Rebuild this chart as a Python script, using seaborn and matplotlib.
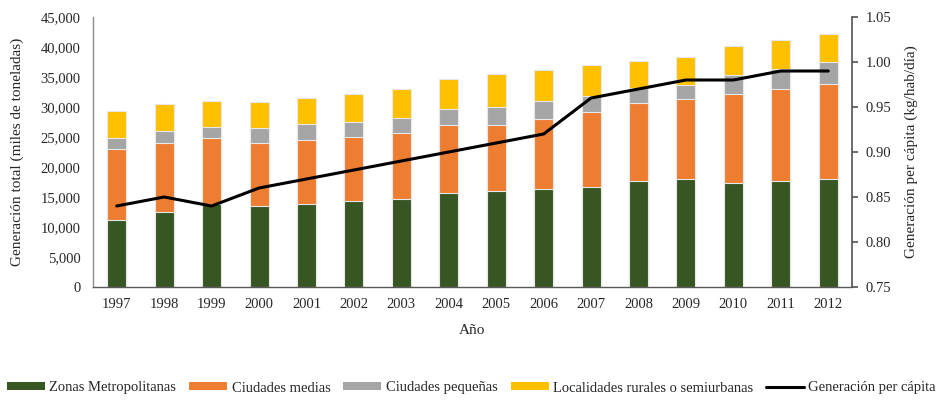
import numpy as np
import pandas as pd
import matplotlib
matplotlib.use("Agg")
import matplotlib.pyplot as plt
from matplotlib.patches import Patch
from matplotlib.lines import Line2D
from matplotlib.ticker import FuncFormatter
import seaborn as sns

# Data
years = ["1997", "1998", "1999", "2000", "2001", "2002", "2003", "2004",
         "2005", "2006", "2007", "2008", "2009", "2010", "2011", "2012"]
metropolitanas = [11200, 12500, 13900, 13500, 13800, 14400, 14670, 15720,
                  16050, 16390, 16610, 17610, 18060, 17280, 17610, 17950]
medias = [11800, 11500, 10880, 10500, 10750, 10660, 10940, 11230,
          11010, 11610, 12500, 13000, 13220, 14890, 15340, 15940]
pequenas = [1900, 1950, 1940, 2500, 2620, 2390, 2560, 2770,
            3000, 3060, 2720, 2500, 2440, 3220, 3330, 3560]
rurales = [4400, 4600, 4330, 4280, 4380, 4770, 4780, 4890,
           5380, 5160, 5120, 4500, 4610, 4720, 4830, 4770]
per_capita = [0.84, 0.85, 0.84, 0.86, 0.87, 0.88, 0.89, 0.90,
              0.91, 0.92, 0.96, 0.97, 0.98, 0.98, 0.99, 0.99]

series_names = ["Zonas Metropolitanas", "Ciudades medias", "Ciudades pequeñas",
                "Localidades rurales o semiurbanas"]
colors = ["#375623", "#ED7D31", "#A5A5A5", "#FFC000"]

sns.set_theme(style="white")
plt.rcParams["font.family"] = ["Liberation Serif", "DejaVu Serif"]
plt.rcParams["text.color"] = "#262626"
plt.rcParams["xtick.color"] = "#262626"
plt.rcParams["ytick.color"] = "#262626"

df = pd.DataFrame({"year": years})
stack = np.zeros(len(years))
tops = []
for vals in [metropolitanas, medias, pequenas, rurales]:
    stack = stack + np.array(vals)
    tops.append(stack.copy())

fig = plt.figure(figsize=(9.43, 4.0), dpi=100)
ax = fig.add_axes([0.0986, 0.2825, 0.8049, 0.675])

# draw stacked bars from top layer down so each cumulative bar shows its band
for top, color in reversed(list(zip(tops, colors))):
    df["value"] = top
    sns.barplot(data=df, x="year", y="value", color=color, width=0.4,
                edgecolor="#e8e8e8", linewidth=0.8, saturation=1, ax=ax)

ax.set_ylim(0, 45000)
ax.set_yticks(np.arange(0, 45001, 5000))
ax.yaxis.set_major_formatter(FuncFormatter(lambda v, p: f"{int(v):,}"))
ax.set_xlim(-0.5, len(years) - 0.5)
ax.set_xlabel("Año", fontsize=11, labelpad=9)
ax.set_ylabel("Generación total (miles de toneladas)", fontsize=11, labelpad=12)
ax.tick_params(axis="y", labelsize=10.5, length=0, pad=9)
ax.tick_params(axis="x", labelsize=10.5, length=0, pad=8)
for side in ["top", "right"]:
    ax.spines[side].set_visible(False)
ax.spines["left"].set_color("#8c8c8c")
ax.spines["bottom"].set_color("#595959")
ax.spines["left"].set_linewidth(1.0)
ax.spines["bottom"].set_linewidth(1.0)

ax2 = ax.twinx()
ax2.plot(np.arange(len(years)), per_capita, color="black", linewidth=2.2)
ax2.set_ylim(0.75, 1.05)
ax2.set_yticks(np.arange(0.75, 1.051, 0.05))
ax2.yaxis.set_major_formatter(FuncFormatter(lambda v, p: f"{v:.2f}"))
ax2.set_ylabel("Generación per cápita (kg/hab/día)", fontsize=11, labelpad=9)
ax2.tick_params(axis="y", labelsize=10.5, length=4, direction="out", pad=6,
                color="#595959")
for side in ["top", "left", "bottom"]:
    ax2.spines[side].set_visible(False)
ax2.spines["right"].set_color("#595959")

handles = [Patch(facecolor=c, edgecolor="none") for c in colors]
handles.append(Line2D([0], [0], color="black", linewidth=2.2))
labels = series_names + ["Generación per cápita"]
fig.legend(handles, labels, loc="center", bbox_to_anchor=(0.5, 0.03), ncol=5,
           frameon=False, fontsize=10.5, handlelength=2.6, handleheight=0.45,
           handletextpad=0.3, columnspacing=0.9)

fig.savefig("out.png", dpi=100)
